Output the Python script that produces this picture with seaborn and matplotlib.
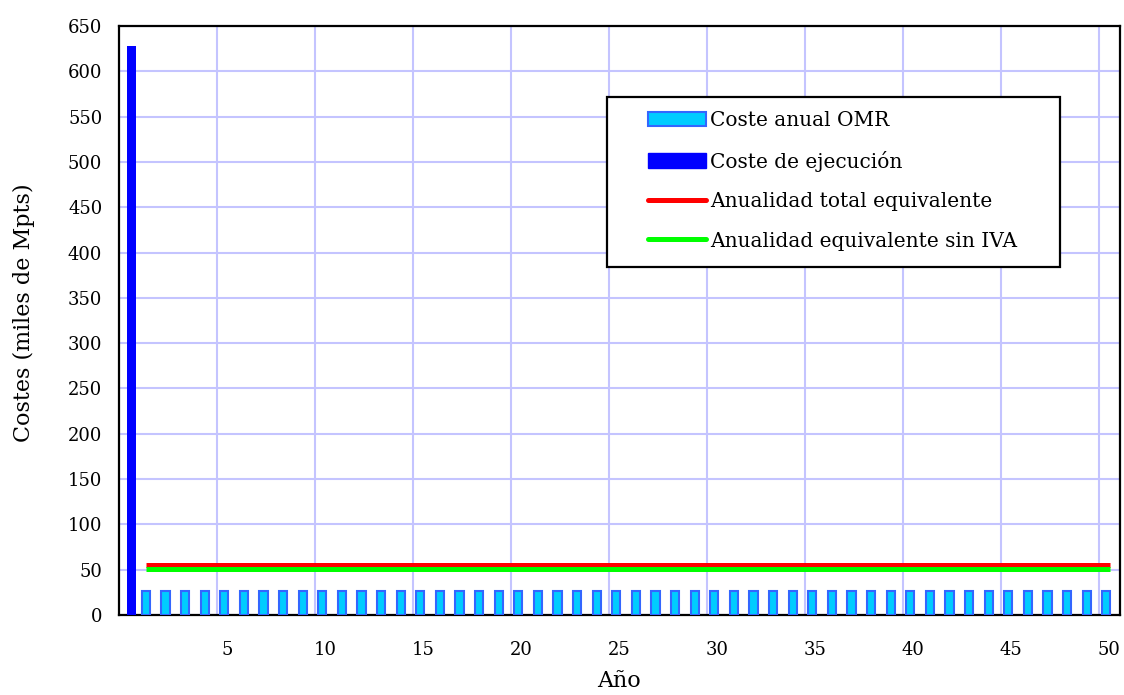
# Costes anuales OMR, coste de ejecución y anualidades equivalentes
import numpy as np
import pandas as pd
import matplotlib
matplotlib.use("Agg")
import matplotlib.pyplot as plt
import matplotlib.transforms as mtransforms
from matplotlib.patches import Patch, Rectangle
from matplotlib.lines import Line2D
import seaborn as sns

# Datos
anios_omr = list(range(1, 51))
coste_omr = [26] * 50
anio_ejecucion = [0]
coste_ejecucion = [628]
anualidad_total = 55.5
anualidad_sin_iva = 51.0
xticks = list(range(5, 51, 5))
yticks = list(range(0, 651, 50))

sns.set_theme(style="white")
plt.rcParams['font.family'] = ['DejaVu Serif']
plt.rcParams['text.color'] = 'black'
plt.rcParams['axes.labelcolor'] = 'black'

fig = plt.figure(figsize=(11.24, 6.95), dpi=100)
ax = fig.add_axes([0.1059, 0.1151, 0.8905, 0.8475])

omr = pd.DataFrame({"x": np.array(anios_omr) + 0.37, "y": coste_omr})
ejec = pd.DataFrame({"x": np.array(anio_ejecucion) + 0.64, "y": coste_ejecucion})

sns.barplot(data=omr, x="x", y="y", native_scale=True, width=0.42,
            color="#00ccff", edgecolor="#3366ff", linewidth=1.5, saturation=1,
            ax=ax, zorder=3)
sns.barplot(data=ejec, x="x", y="y", native_scale=True, width=0.43,
            color="#0000ff", edgecolor="#0000ff", linewidth=0, saturation=1,
            ax=ax, zorder=3)

lin_x = np.array(anios_omr) + 0.37
lin_x[-1] += 0.2
sns.lineplot(x=lin_x, y=[anualidad_total] * len(lin_x), color="#ff0000",
             lw=3.6, ax=ax, zorder=4, solid_capstyle="butt")
sns.lineplot(x=lin_x, y=[anualidad_sin_iva] * len(lin_x), color="#00ff00",
             lw=3.6, ax=ax, zorder=4, solid_capstyle="butt")

ax.set_xlim(0, 51.07)
ax.set_ylim(0, 650)
ax.set_xticks(xticks)
ax.set_xticklabels([str(t) for t in xticks])
ax.set_yticks(yticks)
ax.set_yticklabels([str(t) for t in yticks])

ax.grid(True, color="#c4c4ff", lw=1.5, zorder=0)
ax.set_axisbelow(True)
for s in ax.spines.values():
    s.set_color("black")
    s.set_linewidth(1.6)
ax.tick_params(axis="both", which="major", direction="out", length=5.5, width=1.5,
               color="black", labelsize=13, labelcolor="black")
ax.tick_params(axis="x", pad=13)
ax.tick_params(axis="y", pad=6.5)
offset = mtransforms.ScaledTranslation(10 / 100, 0, fig.dpi_scale_trans)
for lab in ax.get_xticklabels():
    lab.set_transform(lab.get_transform() + offset)

ax.set_xlabel("Año", fontsize=16)
ax.set_ylabel("Costes (miles de Mpts)", fontsize=16)
ax.xaxis.set_label_coords(0.5, -0.093)
ax.yaxis.set_label_coords(-0.084, 0.513)

# Leyenda con marco propio
ax.add_patch(Rectangle((0.4875, 0.5908), 0.4525, 0.2887, transform=ax.transAxes,
                       facecolor="white", edgecolor="black", lw=1.6, zorder=5))
handles = [Patch(facecolor="#00ccff", edgecolor="#3366ff", lw=1.5),
           Patch(facecolor="#0000ff", edgecolor="#0000ff"),
           Line2D([], [], color="#ff0000", lw=3.6),
           Line2D([], [], color="#00ff00", lw=3.6)]
labels = ["Coste anual OMR", "Coste de ejecución",
          "Anualidad total equivalente", "Anualidad equivalente sin IVA"]
leg = ax.legend(handles, labels, loc="upper left", bbox_to_anchor=(0.5285, 0.8557),
                frameon=False, fontsize=14.5, handlelength=2.9, handleheight=0.75,
                handletextpad=0.2, labelspacing=1.02, borderpad=0, borderaxespad=0)
leg.set_zorder(6)

plt.savefig("out.png", dpi=100)
